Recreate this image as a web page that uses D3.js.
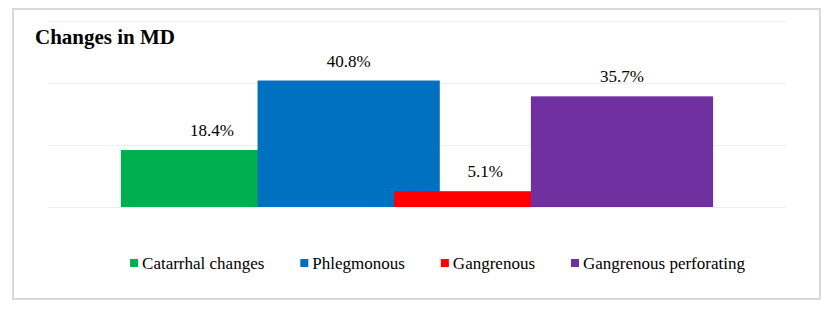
<!DOCTYPE html>
<html>
<head>
<meta charset="utf-8">
<script src="https://cdn.jsdelivr.net/npm/d3@7"></script>
<style>
  body { margin: 0; background: #fff; }
</style>
</head>
<body>
<script>
(function() {
const width = 836;
const height = 313;
const font = "Liberation Serif, Times New Roman, serif";

// data
const series = ["Catarrhal changes", "Phlegmonous", "Gangrenous", "Gangrenous perforating"];
const values = [0.184, 0.408, 0.051, 0.357];
const colors = ["#00B050", "#0070C0", "#FF0000", "#7030A0"];
const gridTicks = [0, 0.2, 0.4, 0.6];
const title = "Changes in MD";

const plot = { left: 48, right: 786, top: 21, bottom: 207 };

const svg = d3.select("body").append("svg")
  .attr("width", width)
  .attr("height", height);

// outer frame
svg.append("rect")
  .attr("x", 13)
  .attr("y", 9)
  .attr("width", 807)
  .attr("height", 290)
  .attr("fill", "#fff")
  .attr("stroke", "#d9d9d9")
  .attr("stroke-width", 2);

const yScale = d3.scaleLinear().domain([0, 0.6]).range([plot.bottom, plot.top]);

// gridlines
svg.append("g")
  .selectAll("line")
  .data(gridTicks)
  .join("line")
  .attr("x1", plot.left)
  .attr("x2", plot.right)
  .attr("y1", d => Math.round(yScale(d)) + 0.5)
  .attr("y2", d => Math.round(yScale(d)) + 0.5)
  .attr("stroke", "#eeeeee")
  .attr("stroke-width", 1);

// bars: excel style, overlap 25%, gap width 80%
const overlap = 0.25, gapWidth = 0.8;
const n = series.length;
const barW = (plot.right - plot.left) / (1 + (n - 1) * (1 - overlap) + gapWidth);
const step = barW * (1 - overlap);
const x0 = plot.left + barW * gapWidth / 2;
const xScale = d3.scaleLinear().domain([0, n - 1]).range([x0, x0 + step * (n - 1)]);

const bars = series.map((s, i) => ({ name: s, value: values[i], color: colors[i], i }));

svg.append("g")
  .selectAll("rect")
  .data(bars)
  .join("rect")
  .attr("x", d => xScale(d.i))
  .attr("y", d => yScale(d.value))
  .attr("width", barW)
  .attr("height", d => yScale(0) - yScale(d.value))
  .attr("fill", d => d.color);

svg.append("g")
  .selectAll("text")
  .data(bars)
  .join("text")
  .attr("x", d => xScale(d.i) + barW / 2)
  .attr("y", d => yScale(d.value) - 14)
  .attr("text-anchor", "middle")
  .attr("font-family", font)
  .attr("font-size", "17px")
  .attr("fill", "#000")
  .text(d => (d.value * 100).toFixed(1) + "%");

// title
svg.append("text")
  .attr("x", 35)
  .attr("y", 44)
  .attr("font-family", font)
  .attr("font-size", "21px")
  .attr("font-weight", "bold")
  .attr("fill", "#000")
  .text(title);

// legend
const legend = svg.append("g");
const items = legend.selectAll("g")
  .data(bars)
  .join("g");
items.append("rect")
  .attr("width", 8)
  .attr("height", 8)
  .attr("y", 259)
  .attr("fill", d => d.color);
items.append("text")
  .attr("x", 12)
  .attr("y", 269)
  .attr("font-family", font)
  .attr("font-size", "17px")
  .attr("fill", "#000")
  .text(d => d.name);

const gap = 36;
let cx = 0;
const offsets = [];
items.each(function(d) {
  offsets.push(cx);
  cx += 12 + this.querySelector("text").getComputedTextLength() + gap;
});
const total = cx - gap;
const start = 437.5 - total / 2;
items.attr("transform", (d, i) => `translate(${start + offsets[i]},0)`);
}());
</script>
</body>
</html>
